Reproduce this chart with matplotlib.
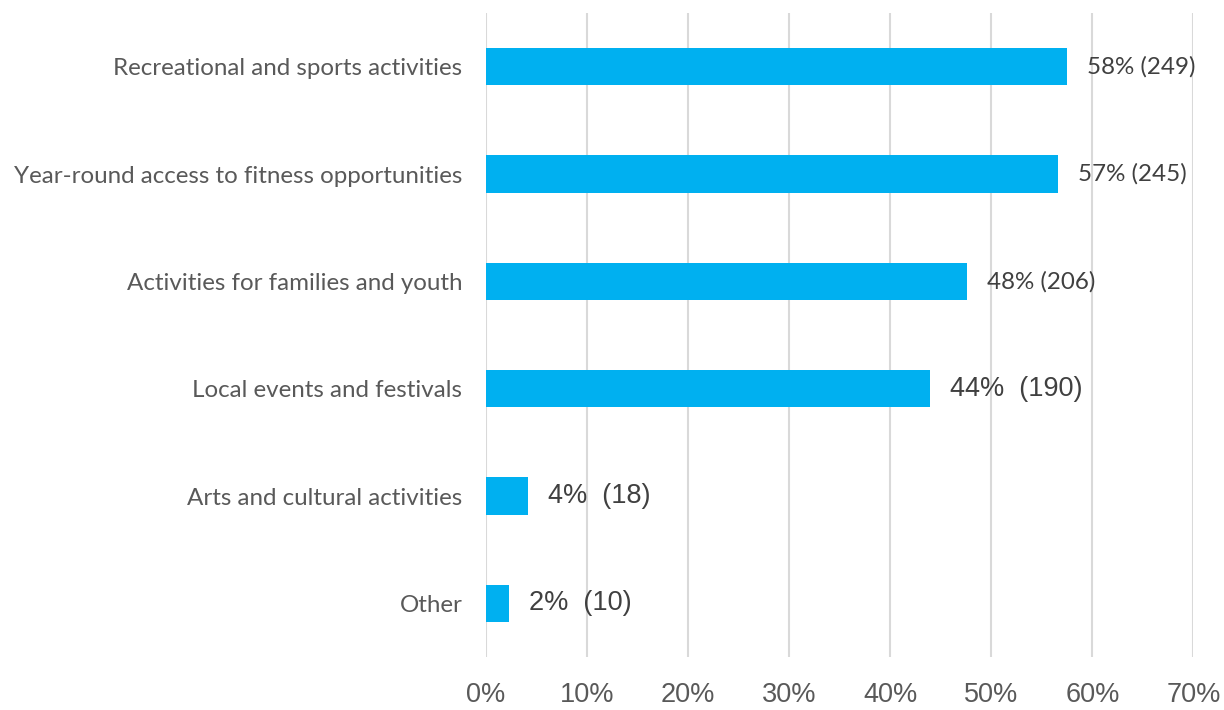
import matplotlib
matplotlib.use("Agg")
import matplotlib.pyplot as plt
from matplotlib.ticker import FuncFormatter
from matplotlib import font_manager

categories = [
    "Recreational and sports activities",
    "Year-round access to fitness opportunities",
    "Activities for families and youth",
    "Local events and festivals",
    "Arts and cultural activities",
    "Other",
]
counts = [249, 245, 206, 190, 18, 10]
total_respondents = 433
xticks = [0, 10, 20, 30, 40, 50, 60, 70]

percent = [c / total_respondents * 100 for c in counts]

BAR = "#00B0F0"
GRID = "#D9D9D9"
TEXT = "#595959"
LABEL = "#404040"

installed = {f.name for f in font_manager.fontManager.ttflist}
narrow = "Liberation Sans Narrow" if "Liberation Sans Narrow" in installed else "Liberation Sans"

fig = plt.figure(figsize=(12.24, 7.10), dpi=100)
ax = fig.add_axes([486 / 1224, 53 / 710, (1193.5 - 486) / 1224, 644 / 710])

ypos = list(range(len(categories)))
ax.barh(ypos, percent, height=0.345, color=BAR, zorder=3)

ax.set_ylim(len(categories) - 0.5, -0.5)
ax.set_xlim(0, 70)
ax.set_xticks(xticks)
ax.xaxis.set_major_formatter(FuncFormatter(lambda v, _: f"{v:.0f}%"))
ax.set_yticks(ypos)
ax.set_yticklabels(categories, family="Lato", fontsize=17.4, color=TEXT)
ax.tick_params(axis="y", length=0, pad=17)
ax.tick_params(axis="x", length=0, pad=18, labelsize=19.5, labelcolor=TEXT)
for lbl in ax.get_xticklabels():
    lbl.set_family(narrow)

ax.grid(axis="x", color=GRID, linewidth=1.5, zorder=0)
for s in ax.spines.values():
    s.set_visible(False)

# value labels: the first three in the category font, the rest in a sans font
for i, (p, c) in enumerate(zip(percent, counts)):
    if i < 3:
        txt = f"{round(p)}% ({c})"
        kw = dict(family="Lato", fontsize=17.4, color=LABEL)
    else:
        txt = f"{round(p)}%  ({c})"
        kw = dict(family="Liberation Sans", fontsize=19.5, color=LABEL)
    ax.annotate(txt, xy=(p, i), xytext=(14.5, 0), textcoords="offset points",
                ha="left", va="center", **kw)

fig.savefig("out.png", dpi=100, facecolor="white")
